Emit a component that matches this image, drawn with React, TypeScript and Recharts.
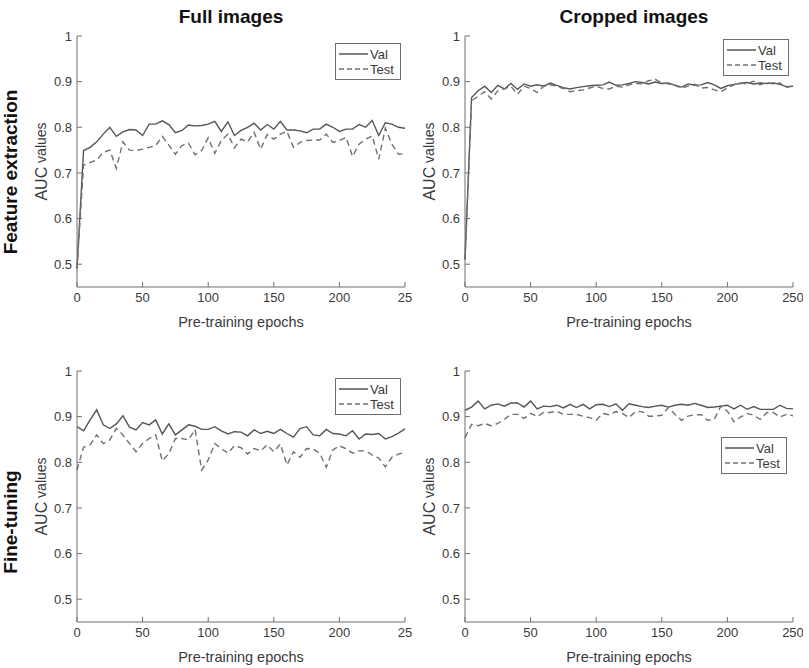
import React from 'react';
import { LineChart, Line, XAxis, YAxis, Legend } from 'recharts';

// pre-training epochs shared by all four panels
const epochs = [
  0, 5, 10, 15, 20, 25, 30, 35, 40, 45, 50, 55, 60, 65, 70, 75, 80, 85, 90, 95, 100, 105, 110, 115, 120,
  125, 130, 135, 140, 145, 150, 155, 160, 165, 170, 175, 180, 185, 190, 195, 200, 205, 210, 215, 220, 225,
  230, 235, 240, 245, 250,
];

// Feature extraction / full images
const fullFeatVal = [
  0.49, 0.749, 0.756, 0.768, 0.785, 0.8, 0.78, 0.79, 0.795, 0.794,
  0.782, 0.807, 0.807, 0.814, 0.806, 0.788, 0.793, 0.805, 0.803, 0.804,
  0.807, 0.813, 0.791, 0.812, 0.782, 0.793, 0.8, 0.809, 0.794, 0.806,
  0.796, 0.813, 0.794, 0.794, 0.792, 0.788, 0.796, 0.796, 0.807, 0.8,
  0.791, 0.796, 0.796, 0.806, 0.8, 0.815, 0.782, 0.81, 0.807, 0.8, 0.798,
];
const fullFeatTest = [
  0.49, 0.717, 0.723, 0.728, 0.745, 0.75, 0.71, 0.768, 0.75, 0.749,
  0.752, 0.756, 0.76, 0.78, 0.761, 0.741, 0.76, 0.765, 0.74, 0.749,
  0.777, 0.743, 0.771, 0.785, 0.755, 0.774, 0.768, 0.789, 0.752, 0.784,
  0.774, 0.785, 0.791, 0.756, 0.767, 0.771, 0.772, 0.772, 0.785, 0.767,
  0.771, 0.778, 0.736, 0.763, 0.774, 0.781, 0.73, 0.798, 0.763, 0.741, 0.742,
];

// Feature extraction / cropped images
const cropFeatVal = [
  0.51, 0.865, 0.88, 0.89, 0.876, 0.892, 0.884, 0.896, 0.883, 0.895,
  0.89, 0.893, 0.89, 0.897, 0.892, 0.887, 0.884, 0.887, 0.889, 0.891,
  0.892, 0.893, 0.899, 0.892, 0.893, 0.896, 0.9, 0.898, 0.895, 0.899,
  0.896, 0.897, 0.892, 0.888, 0.895, 0.892, 0.893, 0.898, 0.893, 0.885,
  0.891, 0.894, 0.896, 0.898, 0.895, 0.897, 0.896, 0.897, 0.894, 0.889, 0.89,
];
const cropFeatTest = [
  0.51, 0.858, 0.868, 0.878, 0.862, 0.88, 0.884, 0.89, 0.872, 0.89,
  0.885, 0.876, 0.89, 0.893, 0.89, 0.885, 0.878, 0.88, 0.882, 0.886,
  0.89, 0.885, 0.884, 0.89, 0.888, 0.893, 0.896, 0.895, 0.902, 0.905,
  0.897, 0.895, 0.892, 0.886, 0.89, 0.894, 0.886, 0.887, 0.882, 0.878,
  0.886, 0.893, 0.897, 0.895, 0.901, 0.893, 0.898, 0.895, 0.897, 0.887, 0.891,
];

// Fine-tuning / full images
const fullFineVal = [
  0.878, 0.869, 0.893, 0.915, 0.882, 0.874, 0.884, 0.902, 0.877, 0.871,
  0.887, 0.882, 0.893, 0.862, 0.884, 0.86, 0.871, 0.882, 0.879, 0.872,
  0.872, 0.878, 0.869, 0.862, 0.867, 0.866, 0.858, 0.871, 0.863, 0.868,
  0.863, 0.872, 0.863, 0.855, 0.874, 0.878, 0.86, 0.858, 0.872, 0.863,
  0.862, 0.858, 0.869, 0.851, 0.862, 0.861, 0.863, 0.851, 0.856, 0.864, 0.873,
];
const fullFineTest = [
  0.783, 0.833, 0.838, 0.86, 0.841, 0.849, 0.874, 0.86, 0.841, 0.823,
  0.841, 0.852, 0.86, 0.803, 0.819, 0.852, 0.852, 0.849, 0.872, 0.783,
  0.805, 0.841, 0.83, 0.82, 0.836, 0.832, 0.818, 0.83, 0.825, 0.838,
  0.823, 0.84, 0.794, 0.823, 0.811, 0.83, 0.829, 0.82, 0.789, 0.827,
  0.836, 0.83, 0.82, 0.825, 0.825, 0.816, 0.809, 0.79, 0.811, 0.818, 0.822,
];

// Fine-tuning / cropped images
const cropFineVal = [
  0.914, 0.921, 0.934, 0.917, 0.925, 0.928, 0.923, 0.93, 0.93, 0.921,
  0.934, 0.917, 0.923, 0.922, 0.925, 0.919, 0.927, 0.92, 0.927, 0.917,
  0.926, 0.927, 0.922, 0.928, 0.914, 0.928, 0.925, 0.922, 0.92, 0.923,
  0.925, 0.921, 0.925, 0.927, 0.925, 0.929, 0.925, 0.92, 0.921, 0.923,
  0.925, 0.917, 0.925, 0.916, 0.922, 0.916, 0.916, 0.916, 0.925, 0.918, 0.917,
];
const cropFineTest = [
  0.854, 0.883, 0.88, 0.885, 0.88, 0.885, 0.894, 0.905, 0.905, 0.896,
  0.907, 0.9, 0.909, 0.909, 0.912, 0.905, 0.905, 0.905, 0.901, 0.898,
  0.892, 0.907, 0.904, 0.911, 0.907, 0.898, 0.911, 0.911, 0.901, 0.901,
  0.903, 0.92, 0.905, 0.892, 0.901, 0.904, 0.904, 0.892, 0.894, 0.923,
  0.912, 0.889, 0.899, 0.907, 0.903, 0.894, 0.909, 0.909, 0.899, 0.905, 0.902,
];

const xTicks = [0, 50, 100, 150, 200, 250];
const yTicks = [0.5, 0.6, 0.7, 0.8, 0.9, 1];

const FONT = '"Liberation Sans", Arial, sans-serif';
const AXIS = '#6f6f6f';
const TEXT = '#3a3a3a';
const VAL_COLOR = '#555555';
const TEST_COLOR = '#707070';

const PLOT_W = 328;
const Y_AXIS_W = 57;

const buildRows = (val: number[], test: number[]) =>
  epochs.map((epoch, i) => ({ epoch, val: val[i], test: test[i] }));

const LegendBox = () => (
  <svg width={66} height={37} style={{ display: 'block', fontFamily: FONT }}>
    <rect x={0.5} y={0.5} width={65} height={36} fill="#fff" stroke={AXIS} />
    <line x1={4} y1={11} x2={33} y2={11} stroke={VAL_COLOR} strokeWidth={1.5} />
    <text x={35} y={16} fontSize={13} fill={TEXT}>Val</text>
    <line x1={4} y1={26} x2={33} y2={26} stroke={TEST_COLOR} strokeWidth={1.5} strokeDasharray="5 3" />
    <text x={35} y={31} fontSize={13} fill={TEXT}>Test</text>
  </svg>
);

const XLabel = (props: any) => {
  const { x, y, width } = props.viewBox;
  return (
    <text x={x + width / 2} y={y + 40} textAnchor="middle" fontSize={14.5} fill={TEXT} fontFamily={FONT}>
      Pre-training epochs
    </text>
  );
};

const YLabel = (props: any) => {
  const { x, y, height } = props.viewBox;
  const cx = x + 21;
  const cy = y + height / 2;
  return (
    <text
      x={cx}
      y={cy}
      transform={`rotate(-90, ${cx}, ${cy})`}
      textAnchor="middle"
      dominantBaseline="central"
      fill={TEXT}
      fontFamily={FONT}
    >
      <tspan fontSize={16}>AUC</tspan>
      <tspan fontSize={14}> values</tspan>
    </text>
  );
};

interface PanelProps {
  left: number;
  top: number;
  width: number;
  val: number[];
  test: number[];
  lastTick: string;
  legendLeft: number;
  legendTop: number;
}

const Panel: React.FC<PanelProps> = ({ left, top, width, val, test, lastTick, legendLeft, legendTop }) => {
  const rows = buildRows(val, test);
  const tickStyle = { fill: TEXT, fontSize: 13, fontFamily: FONT };
  return (
    <div style={{ position: 'absolute', left, top }}>
      <LineChart
        width={width}
        height={320}
        data={rows}
        margin={{ top: 8, right: width - Y_AXIS_W - PLOT_W, bottom: 0, left: 0 }}
      >
        <XAxis
          dataKey="epoch"
          type="number"
          domain={[0, 250]}
          ticks={xTicks}
          height={61}
          stroke={AXIS}
          tickSize={-5}
          tickMargin={11}
          tick={tickStyle}
          tickFormatter={(v: number) => (v === 250 ? lastTick : String(v))}
          label={<XLabel />}
        />
        <XAxis
          xAxisId="top"
          dataKey="epoch"
          orientation="top"
          type="number"
          domain={[0, 250]}
          ticks={xTicks}
          height={0}
          stroke={AXIS}
          tickSize={-5}
          tick={false}
        />
        <YAxis
          type="number"
          domain={[0.45, 1]}
          ticks={yTicks}
          width={Y_AXIS_W}
          stroke={AXIS}
          tickSize={-5}
          tickMargin={10}
          tick={tickStyle}
          tickFormatter={(v: number) => (v === 1 ? '1' : v.toFixed(1))}
          allowDataOverflow
          label={<YLabel />}
        />
        <YAxis
          yAxisId="right"
          orientation="right"
          type="number"
          domain={[0.45, 1]}
          ticks={yTicks}
          width={0}
          stroke={AXIS}
          tickSize={-5}
          tick={false}
        />
        <Legend
          layout="horizontal"
          verticalAlign="middle"
          align="center"
          wrapperStyle={{ left: legendLeft, top: legendTop, width: 66, height: 37 }}
          content={() => <LegendBox />}
        />
        <Line
          dataKey="val"
          name="Val"
          type="linear"
          stroke={VAL_COLOR}
          strokeWidth={1.4}
          dot={false}
          isAnimationActive={false}
        />
        <Line
          dataKey="test"
          name="Test"
          type="linear"
          stroke={TEST_COLOR}
          strokeWidth={1.4}
          strokeDasharray="6 4"
          dot={false}
          isAnimationActive={false}
        />
      </LineChart>
    </div>
  );
};

export default function App() {
  return (
    <div
      style={{
        position: 'absolute',
        left: 0,
        top: 0,
        width: 809,
        height: 668,
        background: '#fff',
        overflow: 'hidden',
      }}
    >
      <svg width={809} height={668} style={{ position: 'absolute', left: 0, top: 0 }}>
        <g fontFamily={FONT} fontWeight="bold" fontSize={19} fill="#111">
          <text x={231} y={23} textAnchor="middle">Full images</text>
          <text x={634} y={23} textAnchor="middle">Cropped images</text>
          <text x={10} y={172} textAnchor="middle" dominantBaseline="central" transform="rotate(-90, 10, 172)">
            Feature extraction
          </text>
          <text x={10} y={522} textAnchor="middle" dominantBaseline="central" transform="rotate(-90, 10, 522)">
            Fine-tuning
          </text>
        </g>
      </svg>
      <Panel left={20} top={28} width={400} val={fullFeatVal} test={fullFeatTest} lastTick="25" legendLeft={315} legendTop={15} />
      <Panel left={408} top={28} width={395} val={cropFeatVal} test={cropFeatTest} lastTick="250" legendLeft={315} legendTop={11} />
      <Panel left={20} top={363} width={400} val={fullFineVal} test={fullFineTest} lastTick="25" legendLeft={315} legendTop={15} />
      <Panel left={408} top={363} width={395} val={cropFineVal} test={cropFineTest} lastTick="250" legendLeft={313} legendTop={74} />
    </div>
  );
}
